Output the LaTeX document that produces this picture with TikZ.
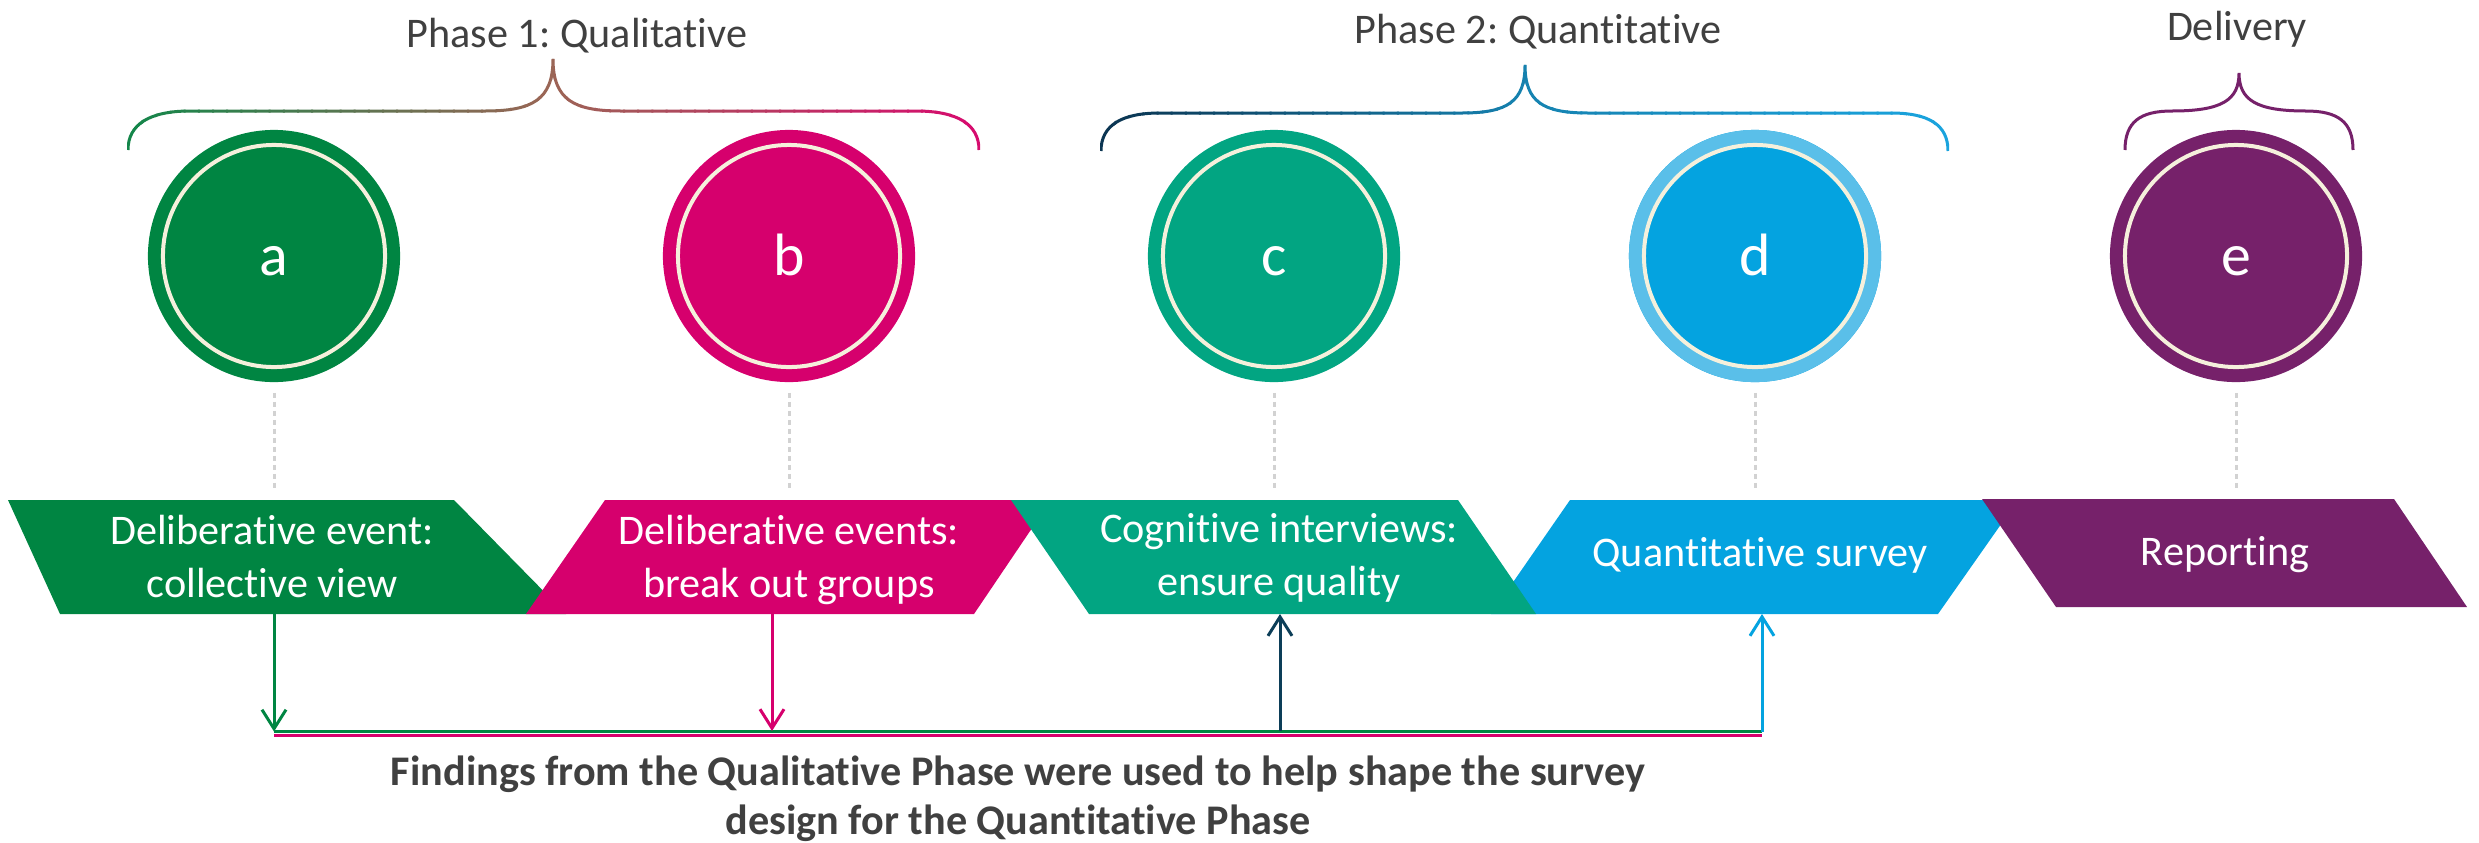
\documentclass[tikz,border=0pt]{standalone}
\usepackage{fontspec}
\setmainfont[Ligatures=NoCommon]{Carlito}
\frenchspacing
\usetikzlibrary{arrows.meta}

\definecolor{qgreen}{HTML}{008542}
\definecolor{qmagenta}{HTML}{D6006D}
\definecolor{qteal}{HTML}{02A582}
\definecolor{qblue}{HTML}{04A3E0}
\definecolor{qskyring}{HTML}{5ABFE9}
\definecolor{qpurple}{HTML}{76216A}
\definecolor{qnavy}{HTML}{0C3E58}
\definecolor{ringcream}{HTML}{F5F0DC}
\definecolor{labelgray}{HTML}{404040}
\definecolor{guidegray}{HTML}{D2D2D2}
\definecolor{braceGreen}{HTML}{12874A}
\definecolor{braceBrown}{HTML}{9C6556}
\definecolor{braceRose}{HTML}{D70A6E}
\definecolor{braceNavy}{HTML}{0B3450}
\definecolor{braceMid}{HTML}{1682B0}
\definecolor{braceSky}{HTML}{1AA4DE}

% brace outlines (pixel-like units, y downwards)
\def\braceQual{(128,150) .. controls (128,124) and (150,111) .. (190,111) -- (485,111)
  .. controls (532,111) and (553,100) .. (553,59)
  .. controls (553,100) and (574,111) .. (621,111) -- (916,111)
  .. controls (957,111) and (979,124) .. (979,150)}
\def\braceQuant{(1101,151) .. controls (1101,125) and (1122,113) .. (1160,113) -- (1462,113)
  .. controls (1507,113) and (1525,102) .. (1525,65)
  .. controls (1525,102) and (1543,113) .. (1588,113) -- (1891,113)
  .. controls (1929,113) and (1948,125) .. (1948,151)}

\begin{document}
\begin{tikzpicture}[x=0.01cm,y=-0.01cm,
  disc/.style={circle, minimum size=2.52cm, inner sep=0pt, text=white,
    font=\fontsize{17}{20}\selectfont, text height=0.38cm, text depth=0pt},
  ring/.style={draw=ringcream, line width=0.04cm},
  guide/.style={draw=guidegray, line width=0.03cm, dash pattern=on 0.05cm off 0.04cm,
    shorten <=0.1cm, shorten >=0.1cm},
  label/.style={text=labelgray, font=\fontsize{12}{14}\selectfont, inner sep=0pt},
  boxtext/.style={text=white, font=\fontsize{12}{15.1}\selectfont, align=center, inner sep=0pt},
  flow/.style={line width=0.03cm, -{Straight Barb[length=0.19cm,width=0.24cm]}},
  bar/.style={line width=0.035cm},
  bracestroke/.style={line width=0.03cm},
]
\useasboundingbox (0,0) rectangle (2479,842);

% phase headings
\node[label, anchor=base] (p1) at (577,47) {Phase 1: Qualitative};
\node[label, anchor=base] (p2) at (1538,43) {Phase 2: Quantitative};
\node[label, anchor=base] (p3) at (2237,40) {Delivery};

% braces with colour gradients, drawn strip by strip
\foreach \i in {0,...,29}{
  \pgfmathsetmacro\xa{128+(553-128)*\i/30-1}
  \pgfmathsetmacro\xb{128+(553-128)*(\i+1)/30+1}
  \pgfmathsetmacro\pc{100-100*(\i+0.5)/30}
  \begin{scope}
    \clip (\xa,40) rectangle (\xb,170);
    \draw[bracestroke, draw=braceGreen!\pc!braceBrown] \braceQual;
  \end{scope}
  \pgfmathsetmacro\xa{553+(979-553)*\i/30-1}
  \pgfmathsetmacro\xb{553+(979-553)*(\i+1)/30+1}
  \begin{scope}
    \clip (\xa,40) rectangle (\xb,170);
    \draw[bracestroke, draw=braceBrown!\pc!braceRose] \braceQual;
  \end{scope}
  \pgfmathsetmacro\xa{1101+(1525-1101)*\i/30-1}
  \pgfmathsetmacro\xb{1101+(1525-1101)*(\i+1)/30+1}
  \begin{scope}
    \clip (\xa,40) rectangle (\xb,170);
    \draw[bracestroke, draw=braceNavy!\pc!braceMid] \braceQuant;
  \end{scope}
  \pgfmathsetmacro\xa{1525+(1948-1525)*\i/30-1}
  \pgfmathsetmacro\xb{1525+(1948-1525)*(\i+1)/30+1}
  \begin{scope}
    \clip (\xa,40) rectangle (\xb,170);
    \draw[bracestroke, draw=braceMid!\pc!braceSky] \braceQuant;
  \end{scope}
}
\draw[bracestroke, qpurple] (2125,150) .. controls (2125,122) and (2140,111) .. (2172,111)
  .. controls (2222,111) and (2239,100) .. (2239,73)
  .. controls (2239,100) and (2256,111) .. (2306,111)
  .. controls (2338,111) and (2353,122) .. (2353,150);

% stage discs
\node[disc, fill=qgreen] (a) at (274,256) {a};
\node[disc, fill=qmagenta] (b) at (789,256) {b};
\node[disc, fill=qteal] (c) at (1274,256) {c};
\node[disc, fill=qblue] (d) at (1755,256) {d};
\node[disc, fill=qpurple] (e) at (2236,256) {e};
\draw[qskyring, line width=0.15cm] (d.center) circle[radius=1.185cm];
\foreach \n in {a,b,c,d,e}
  \draw[ring] (\n.center) circle[radius=1.11cm];

% anchor points on the stage banners
\coordinate (aTop) at (274,500);
\coordinate (bTop) at (789,500);
\coordinate (cTop) at (1274,500);
\coordinate (dTop) at (1755,500);
\coordinate (eTop) at (2236,500);

\foreach \n in {a,b,c,d,e}
  \draw[guide] (\n.south) -- (\n Top);

% stage banners
\fill[qgreen] (8,500) -- (454,500) -- (566,614) -- (60,614) -- cycle;
\fill[qmagenta] (605,500) -- (1051,500) -- (974,614) -- (526,614) -- cycle;
\fill[qblue] (1570,500) -- (2018,500) -- (1938,614) -- (1491,614) -- cycle;
\fill[qteal] (1011,500) -- (1458,500) -- (1536,614) -- (1089,614) -- cycle;
\fill[qpurple] (1982,499) -- (2394,499) -- (2467,607) -- (2056,607) -- cycle;

\node[boxtext] (ta) at (272,560) {\strut Deliberative event:\\\strut collective view};
\node[boxtext] (tb) at (789,560) {\strut Deliberative events:\\\strut break out groups};
\node[boxtext] (tc) at (1279,558) {\strut Cognitive interviews:\\\strut ensure quality};
\node[boxtext] (td) at (1760,556) {\strut Quantitative survey};
\node[boxtext] (te) at (2225,555) {\strut Reporting};

% feedback bar
\coordinate (hL) at (274,731.5);
\coordinate (hR) at (1762,731.5);
\coordinate (mL) at (274,735.5);
\coordinate (mR) at (1762,735.5);
\draw[bar, qmagenta] (mL) -- (mR);
\draw[bar, qgreen] (hL) -- (hR);

\coordinate (aBot) at (274,614);
\coordinate (bBot) at (772,614);
\coordinate (bHit) at (772,731);
\coordinate (cBot) at (1280,614);
\coordinate (cHit) at (1280,731);
\coordinate (dBot) at (1762,614);

\draw[flow, qgreen] (aBot) -- (hL);
\draw[flow, qmagenta] (bBot) -- (bHit);
\draw[flow, qnavy] (cHit) -- (cBot);
\draw[flow, qblue] (hR) -- (dBot);

% caption
\node[label, font=\fontsize{12}{14.2}\selectfont\bfseries, align=center] (note) at (1018,800)
  {\strut Findings from the Qualitative Phase were used to help shape the survey\\\strut design for the Quantitative Phase};
\end{tikzpicture}
\end{document}
